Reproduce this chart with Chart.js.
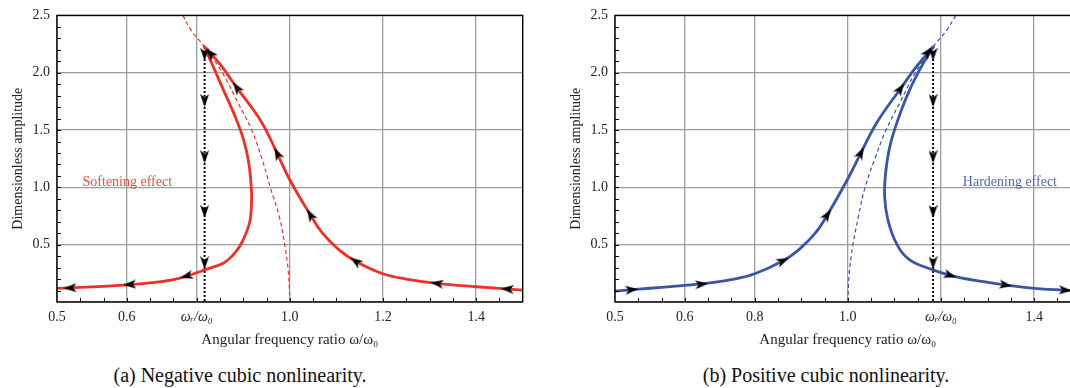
<!DOCTYPE html>
<html>
<head>
<meta charset="utf-8">
<script src="https://cdn.jsdelivr.net/npm/chart.js@4.4.1/dist/chart.umd.min.js"></script>
<style>
  body { margin: 0; width: 1070px; height: 388px; overflow: hidden; background: #fff; position: relative; }
  canvas { position: absolute; top: 0; }
  .caption { position: absolute; top: 363px; font-family: "Liberation Serif", "Times New Roman", serif; font-size: 20px; line-height: 24px; color: #111; white-space: nowrap; transform: translateX(-50%); }
</style>
</head>
<body>
<canvas id="soft_chart" width="540" height="352" style="left:0"></canvas>
<canvas id="hard_chart" width="540" height="352" style="left:558px"></canvas>
<div class="caption" style="left:240px">(a) Negative cubic nonlinearity.</div>
<div class="caption" style="left:826px">(b) Positive cubic nonlinearity.</div>
<script>
// tick positions and labels (the "0.6" label sits at 0.65 in the original figure)
var x_ticks = [0.5, 0.65, 0.8, 1.0, 1.2, 1.4];
var soft_x_labels = ["0.5", "0.6", "ωᵣ/ω₀", "1.0", "1.2", "1.4"];
var hard_x_labels = ["0.5", "0.6", "0.8", "1.0", "ωᵣ/ω₀", "1.4"];
var y_ticks = [0, 0.5, 1.0, 1.5, 2.0, 2.5];
var y_labels = ["", "0.5", "1.0", "1.5", "2.0", "2.5"];

// (a) softening: lower branch + inner branch up to the peak
var soft_lower = [[0.5,0.118],[0.55,0.127],[0.6,0.137],[0.65,0.15],[0.7,0.166],[0.75,0.195],[0.78,0.228],
    [0.817,0.28],[0.858,0.341],[0.878,0.41],[0.893,0.49],[0.906,0.6],[0.914,0.7],[0.917,0.8],[0.918,0.92],
    [0.917,1.006],[0.912,1.208],[0.901,1.41],[0.883,1.613],[0.858,1.844],[0.834,2.065],[0.817,2.225]];
// peak down along the outer branch to 1.5
var soft_upper = [[0.817,2.225],[0.85,2.075],[0.886,1.87],[0.937,1.584],[0.973,1.295],[1.0,1.064],
    [1.044,0.76],[1.07,0.6],[1.105,0.457],[1.141,0.356],[1.2,0.246],[1.25,0.2],[1.316,0.162],[1.4,0.133],[1.5,0.104]];
var soft_backbone = [[0.77,2.5],[0.789,2.364],[0.817,2.225],[0.855,2.0],[0.887,1.75],[0.918,1.5],[0.94,1.25],
    [0.958,1.0],[0.977,0.75],[0.989,0.5],[0.997,0.25],[1.0,0]];
var soft_jump = [[0.817,2.225],[0.817,0]];
var soft_upper_arrows = [[0.829,2.17],[0.886,1.87],[0.973,1.295],[1.044,0.76],[1.141,0.356],[1.316,0.162],[1.467,0.113]];
var soft_lower_arrows = [[0.778,0.226],[0.656,0.152],[0.528,0.122]];
var soft_jump_arrows = [[0.817,2.16],[0.817,1.757],[0.817,1.266],[0.817,0.789],[0.817,0.341]];

// (b) hardening: lower branch + outer branch up to the peak
var hard_lower = [[0.5,0.095],[0.55,0.112],[0.6,0.128],[0.65,0.145],[0.7,0.165],[0.75,0.195],[0.8,0.246],
    [0.861,0.36],[0.895,0.457],[0.93,0.6],[0.956,0.76],[1.0,1.075],[1.028,1.3],[1.063,1.57],[1.113,1.86],
    [1.146,2.046],[1.175,2.19],[1.183,2.225]];
// peak down the inner branch, then out to 1.5
var hard_upper = [[1.183,2.225],[1.161,2.075],[1.132,1.844],[1.107,1.584],[1.09,1.353],[1.081,1.121],[1.079,0.919],
    [1.086,0.717],[1.104,0.514],[1.132,0.37],[1.183,0.28],[1.22,0.232],[1.27,0.19],[1.339,0.148],[1.4,0.118],[1.5,0.097]];
var hard_backbone = [[1.0,0],[1.003,0.25],[1.011,0.5],[1.023,0.75],[1.037,1.0],[1.058,1.25],[1.082,1.5],[1.113,1.75],
    [1.145,2.0],[1.183,2.225],[1.211,2.364],[1.232,2.5]];
var hard_jump = [[1.183,2.225],[1.183,0]];
var hard_lower_arrows = [[0.536,0.107],[0.686,0.155],[0.861,0.36],[0.956,0.76],[1.028,1.3],[1.113,1.86],[1.172,2.18]];
var hard_upper_arrows = [[1.22,0.232],[1.339,0.148],[1.467,0.103]];
var hard_jump_arrows = [[1.183,2.16],[1.183,1.757],[1.183,1.266],[1.183,0.789],[1.183,0.341]];

var serif = "'Liberation Serif', 'Times New Roman', 'DejaVu Serif', serif";
Chart.defaults.font.family = serif;
Chart.defaults.font.size = 14;
Chart.defaults.color = "#222";

function to_points(list){
    return list.map(function(p){ return {x: p[0], y: p[1]}; });
}

function make_arrow_head(){
    let c = document.createElement("canvas");
    c.width = 9;
    c.height = 13;
    let g = c.getContext("2d");
    g.fillStyle = "#000";
    g.beginPath();
    g.moveTo(4.5, 0);
    g.lineTo(9, 13);
    g.lineTo(4.5, 9.5);
    g.lineTo(0, 13);
    g.closePath();
    g.fill();
    return c;
}
var arrow_head = make_arrow_head();

// rotate an arrow head along the nearest segment of its path (pixel space)
function arrow_angle(context, path, dir){
    let p = context.raw;
    if (!p) return 0;
    let sx = context.chart.scales.x, sy = context.chart.scales.y;
    let px = sx.getPixelForValue(p.x), py = sy.getPixelForValue(p.y);
    let best_d = Infinity, ddx = 0, ddy = 1;
    for (let i = 0; i < path.length - 1; i++){
        let ax = sx.getPixelForValue(path[i].x), ay = sy.getPixelForValue(path[i].y);
        let bx = sx.getPixelForValue(path[i+1].x), by = sy.getPixelForValue(path[i+1].y);
        let dx = bx - ax, dy = by - ay;
        let len2 = dx*dx + dy*dy || 1;
        let t = Math.max(0, Math.min(1, ((px-ax)*dx + (py-ay)*dy) / len2));
        let d = Math.hypot(ax + t*dx - px, ay + t*dy - py);
        if (d < best_d){ best_d = d; ddx = dx; ddy = dy; }
    }
    return Math.atan2(dir*ddx, -dir*ddy) * 180 / Math.PI;
}

function line_set(points, color, width, dash, tension, order){
    return {
        data: points,
        showLine: true,
        borderColor: color,
        borderWidth: width,
        borderDash: dash,
        borderCapStyle: dash.length ? "butt" : "round",
        borderJoinStyle: "round",
        pointRadius: 0,
        tension: tension,
        fill: false,
        clip: 0,
        order: order
    };
}

function arrow_set(points, path, dir){
    return {
        data: points,
        showLine: false,
        pointStyle: arrow_head,
        pointRadius: 4,
        pointRotation: function(c){ return arrow_angle(c, path, dir); },
        clip: false,
        order: 0
    };
}

var frame_plugin = {
    id: "frame",
    afterDatasetsDraw: function(chart, args, opts){
        let ctx = chart.ctx, a = chart.chartArea;
        let sx = chart.scales.x, sy = chart.scales.y;
        ctx.save();
        ctx.strokeStyle = "#000";
        ctx.lineWidth = 1;
        // inward minor ticks
        ctx.beginPath();
        for (let v = 0.55; v < 1.5; v += 0.05){
            let x = Math.round(sx.getPixelForValue(v)) + 0.5;
            ctx.moveTo(x, a.bottom);
            ctx.lineTo(x, a.bottom - 4);
        }
        for (let v = 0.1; v < 2.5; v += 0.1){
            let y = Math.round(sy.getPixelForValue(v)) + 0.5;
            ctx.moveTo(a.left, y);
            ctx.lineTo(a.left + 4, y);
        }
        ctx.stroke();
        ctx.lineWidth = 1.4;
        ctx.strokeRect(a.left, a.top, a.right - a.left, a.bottom - a.top);
        // effect label
        ctx.font = "14px " + serif;
        ctx.fillStyle = opts.color;
        ctx.textAlign = "center";
        ctx.textBaseline = "middle";
        ctx.fillText(opts.text, sx.getPixelForValue(opts.x), sy.getPixelForValue(opts.y));
        ctx.restore();
    }
};

function make_panel(canvas_id, x_labels, datasets, label){
    let wr_index = x_labels.indexOf("ωᵣ/ω₀");
    new Chart(document.getElementById(canvas_id), {
        type: "scatter",
        data: { datasets: datasets },
        plugins: [frame_plugin],
        options: {
            responsive: false,
            animation: false,
            devicePixelRatio: 1,
            layout: { padding: { top: 15, right: 17.3, left: 0, bottom: 0 } },
            plugins: {
                legend: { display: false },
                tooltip: { enabled: false },
                frame: label
            },
            scales: {
                x: {
                    type: "linear",
                    min: 0.5,
                    max: 1.5,
                    afterBuildTicks: function(scale){ scale.ticks = x_ticks.map(function(v){ return {value: v}; }); },
                    afterFit: function(scale){ scale.height = 50; },
                    grid: { color: "#9c9c9c", lineWidth: 1.3, drawTicks: false },
                    border: { display: false },
                    ticks: {
                        padding: 7,
                        maxRotation: 0,
                        autoSkip: false,
                        callback: function(v, i){ return x_labels[i]; },
                        font: function(c){ return { size: 14, style: c.index === wr_index ? "italic" : "normal" }; }
                    },
                    title: { display: true, text: "Angular frequency ratio ω/ω₀", font: { size: 15 }, padding: { top: 0, bottom: 3 } }
                },
                y: {
                    type: "linear",
                    min: 0,
                    max: 2.5,
                    afterBuildTicks: function(scale){ scale.ticks = y_ticks.map(function(v){ return {value: v}; }); },
                    afterFit: function(scale){ scale.width = 57; },
                    grid: { color: "#9c9c9c", lineWidth: 1.3, drawTicks: false },
                    border: { display: false },
                    ticks: { padding: 7, callback: function(v, i){ return y_labels[i]; } },
                    title: { display: true, text: "Dimensionless amplitude", font: { size: 14 }, padding: { top: 10, bottom: 0 } }
                }
            }
        }
    });
}

var red = "#ec3226";
var blue = "#3a54a6";

var sl = to_points(soft_lower), su = to_points(soft_upper), sj = to_points(soft_jump);
make_panel("soft_chart", soft_x_labels, [
    arrow_set(to_points(soft_upper_arrows), su, -1),
    arrow_set(to_points(soft_lower_arrows), sl, -1),
    arrow_set(to_points(soft_jump_arrows), sj, 1),
    line_set(sl, red, 2.8, [], 0.4, 1),
    line_set(su, red, 2.8, [], 0.4, 1),
    line_set(sj, "#000", 2, [2, 2], 0, 2),
    line_set(to_points(soft_backbone), red, 1.2, [4, 3], 0.4, 3)
], { text: "Softening effect", x: 0.651, y: 1.045, color: "#ef4a46" });

var hl = to_points(hard_lower), hu = to_points(hard_upper), hj = to_points(hard_jump);
make_panel("hard_chart", hard_x_labels, [
    arrow_set(to_points(hard_lower_arrows), hl, 1),
    arrow_set(to_points(hard_upper_arrows), hu, 1),
    arrow_set(to_points(hard_jump_arrows), hj, 1),
    line_set(hl, blue, 2.8, [], 0.4, 1),
    line_set(hu, blue, 2.8, [], 0.4, 1),
    line_set(hj, "#000", 2, [2, 2], 0, 2),
    line_set(to_points(hard_backbone), blue, 1.2, [4, 3], 0.4, 3)
], { text: "Hardening effect", x: 1.348, y: 1.04, color: "#5068b2" });
</script>
</body>
</html>
